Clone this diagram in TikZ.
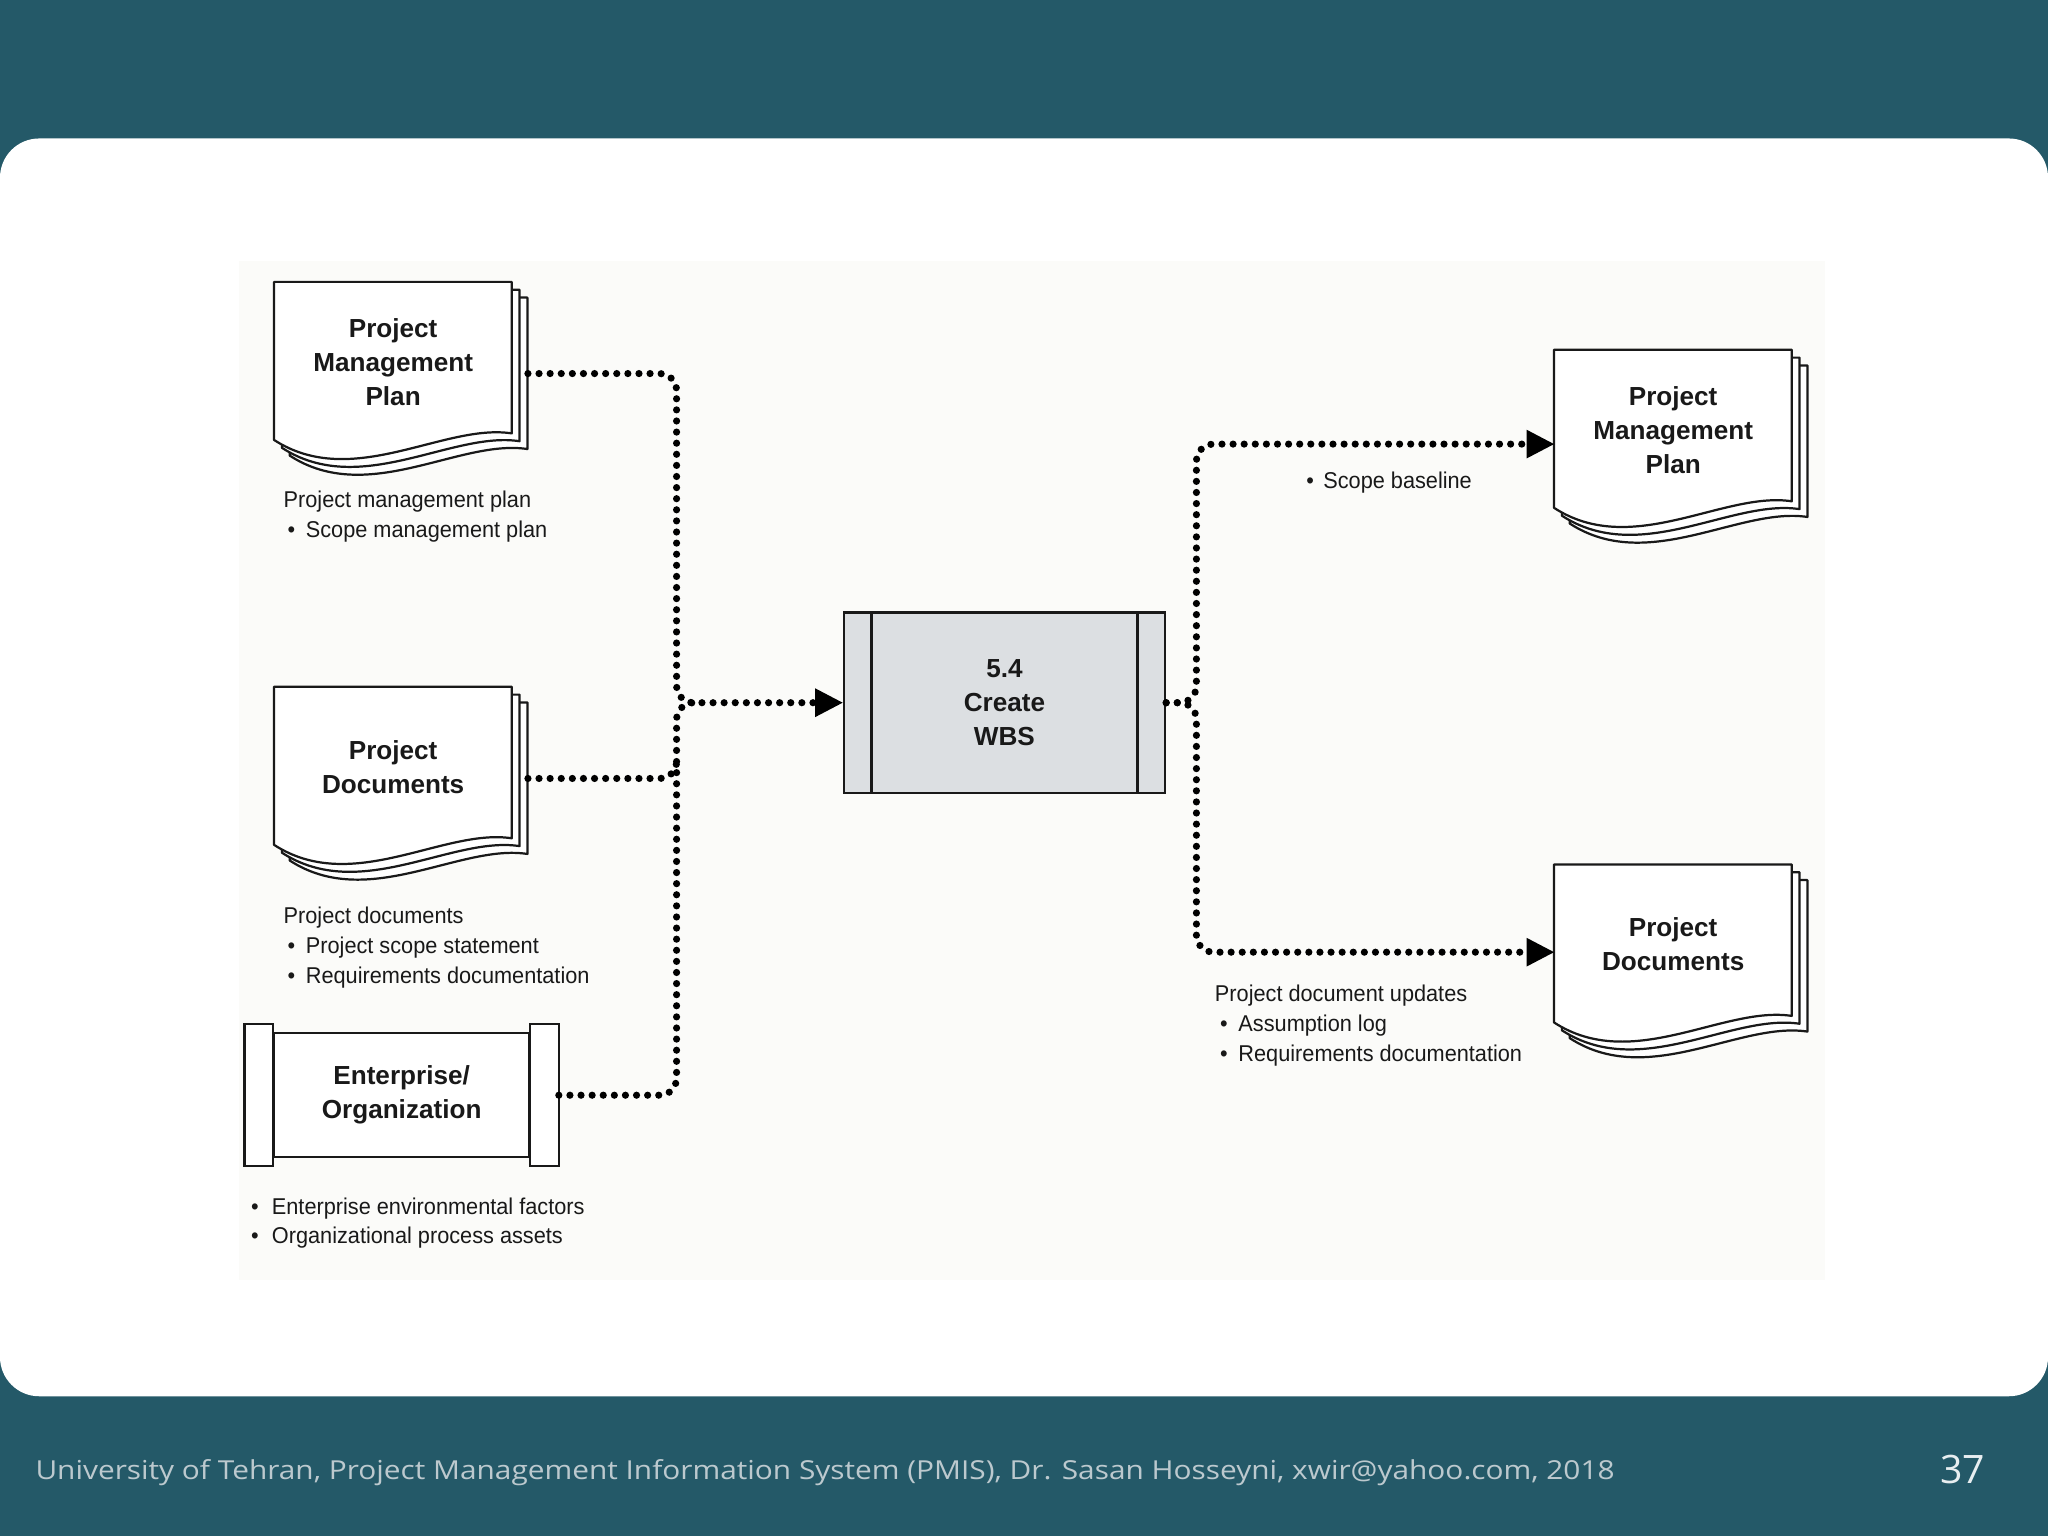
\documentclass[tikz,border=0pt]{standalone}
\usepackage{fontspec}
\usepackage{graphicx}
\setmainfont{Liberation Sans}
\newfontfamily\labelfont[FakeStretch=0.95]{Liberation Sans}
\newfontfamily\footfont{Open Sans}
\usetikzlibrary{arrows.meta,calc,backgrounds}
\definecolor{slideTeal}{RGB}{36,89,104}
\definecolor{diagBg}{RGB}{251,251,249}
\definecolor{wbsGray}{RGB}{220,223,226}
\definecolor{footGray}{RGB}{188,201,206}
\definecolor{pageNum}{RGB}{232,238,240}
\definecolor{inkc}{RGB}{25,25,25}
\newcommand\bul[2]{\hspace*{#1}\makebox[#2][l]{\textbullet}}
\newcommand\docsheets[1]{%
  \begin{scope}[on background layer]
    \foreach \d in {12,6,0}{%
      \begin{scope}[shift={($(#1.north west)+(\d,\d)$)}]
        \draw[sheet] (0,0) -- (182,0) -- (182,116) .. controls (130,108) and (60,160) .. (0,121) -- cycle;
      \end{scope}
    }
  \end{scope}}
\begin{document}
\begin{tikzpicture}[x=1pt,y=-1pt,
  sheet/.style={line width=1.7pt, draw=inkc, fill=white, line join=round},
  boxline/.style={line width=1.7pt, draw=inkc},
  title/.style={font=\fontsize{20}{26}\selectfont\bfseries, align=center, text=inkc, inner sep=0pt},
  docnode/.style={title, minimum width=182pt, minimum height=122pt},
  lbl/.style={font=\labelfont\fontsize{17.5}{23}\selectfont, align=left, anchor=north west, inner sep=0pt, text=inkc},
  dotline/.style={line width=5.5pt, line cap=round, dash pattern=on 0pt off 8.5pt, draw=black, rounded corners=13pt},
  tip/.style={-{Triangle[length=21pt,width=22pt,line width=0pt]}}
]
\useasboundingbox (0,0) rectangle (1568,1176);
\begin{scope}[on background layer]
  \fill[slideTeal] (0,0) rectangle (1568,1176);
  \fill[white, rounded corners=30pt] (0,106) rectangle (1568,1069);
  \fill[diagBg] (183,200) rectangle (1397,980);
\end{scope}

% document nodes
\node[docnode] (pmpL) at (301,277) {Project\\Management\\Plan};
\node[docnode] (pdL) at (301,587) {Project\\Documents};
\node[docnode] (pmpR) at (1281,329) {Project\\Management\\Plan};
\node[docnode] (pdR) at (1281,723) {Project\\Documents};
\docsheets{pmpL}
\docsheets{pdL}
\docsheets{pmpR}
\docsheets{pdR}

% process box
\node[title, boxline, fill=wbsGray, minimum width=246pt, minimum height=138pt] (wbs) at (769,538) {5.4\\Create\\WBS};
\draw[boxline] ($(wbs.north west)+(22,0)$) -- ($(wbs.south west)+(22,0)$);
\draw[boxline] ($(wbs.north east)+(-22,0)$) -- ($(wbs.south east)+(-22,0)$);

% enterprise box
\node[title, boxline, fill=white, minimum width=195pt, minimum height=95pt] (ent) at (307.5,838.5) {Enterprise/\\Organization};
\draw[boxline, fill=white] ($(ent.north west)+(-22,-6)$) rectangle ($(ent.south west)+(0,6)$);
\draw[boxline, fill=white] ($(ent.north east)+(0,-6)$) rectangle ($(ent.south east)+(22,6)$);

% labels
\node[lbl] (pmpLlab) at (217,376) {Project management plan\\\bul{3pt}{14pt}Scope management plan};
\node[lbl] (pdLlab) at (217,694) {Project documents\\\bul{3pt}{14pt}Project scope statement\\\bul{3pt}{14pt}Requirements documentation};
\node[lbl, font=\labelfont\fontsize{17.5}{22.5}\selectfont] (entlab) at (190,917) {\bul{2pt}{16pt}Enterprise environmental factors\\\bul{2pt}{16pt}Organizational process assets};
\node[lbl] (pmpRlab) at (998,361) {\bul{2pt}{13pt}Scope baseline};
\node[lbl] (pdRlab) at (930,754) {Project document updates\\\bul{4pt}{14pt}Assumption log\\\bul{4pt}{14pt}Requirements documentation};

% connectors
\coordinate (busL) at (518,538);
\coordinate (busR) at (916,538);
\draw[dotline, tip] ($(pmpL.east)+(12,9)$) -| (busL) -- (wbs.west);
\draw[dotline] ($(pdL.east)+(12,9)$) -| ($(busL)+(0,44)$);
\draw[dotline] ($(ent.east)+(22,0)$) -| (busL) -- ($(busL)+(16,0)$);
\draw[dotline, tip] (wbs.east) -- (busR) |- ($(pmpR.west)+(0,11)$);
\draw[dotline, tip] (wbs.east) -- (busR) |- ($(pdR.west)+(0,6)$);

% footer
\node[anchor=base west, inner sep=0pt, text=footGray, font=\footfont\fontsize{20}{24}\selectfont] (foot) at (27,1133) {\resizebox{1209pt}{\height}{University of Tehran, Project Management Information System (PMIS), Dr. Sasan Hosseyni, xwir@yahoo.com, 2018}};
\node[anchor=base east, inner sep=0pt, text=pageNum, font=\footfont\fontsize{30}{32}\selectfont] (pg) at (1520,1136) {37};
\end{tikzpicture}
\end{document}
